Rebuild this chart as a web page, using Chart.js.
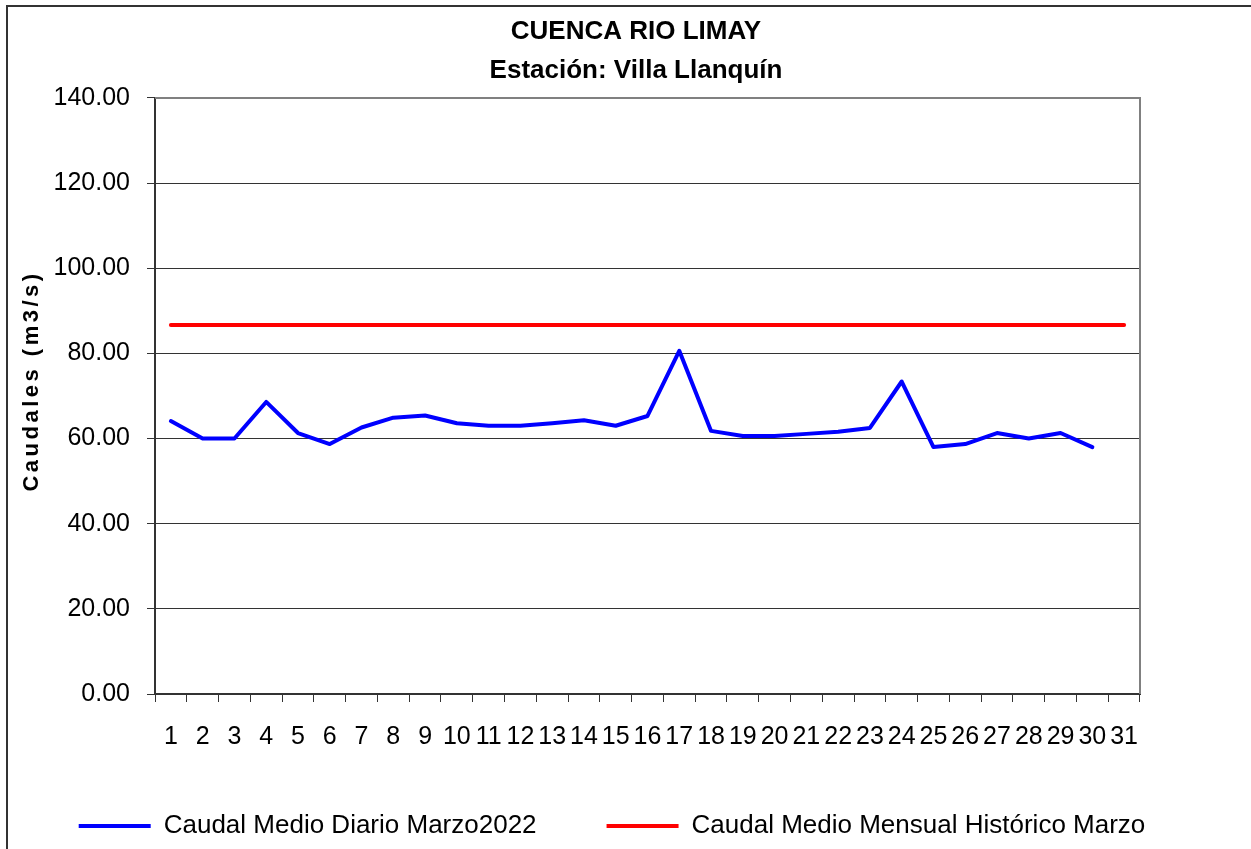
<!DOCTYPE html>
<html>
<head>
<meta charset="utf-8">
<script src="https://cdn.jsdelivr.net/npm/chart.js@4.4.1/dist/chart.umd.min.js"></script>
<style>
  html, body { margin: 0; padding: 0; background: #fff; overflow: hidden; }
  #frame { position: absolute; left: 6px; top: 5px; width: 1400px; height: 1000px;
           border-left: 2px solid #333; border-top: 2px solid #333; }
  canvas { position: absolute; left: 0; top: 0; }
</style>
</head>
<body>
<div id="frame"></div>
<canvas id="caudales" width="1251" height="849"></canvas>
<script>
const days = ['1','2','3','4','5','6','7','8','9','10','11','12','13','14','15','16',
  '17','18','19','20','21','22','23','24','25','26','27','28','29','30','31']
const caudalDiario = [64.1, 60.0, 60.0, 68.6, 61.3, 58.7, 62.6, 64.9, 65.4, 63.6,
  63.0, 63.0, 63.6, 64.3, 63.0, 65.3, 80.6, 61.8, 60.6, 60.6,
  61.1, 61.6, 62.5, 73.4, 58.0, 58.7, 61.3, 60.0, 61.3, 58.0, null]
const caudalHistorico = [86.7, 86.7, 86.7, 86.7, 86.7, 86.7, 86.7, 86.7, 86.7, 86.7,
  86.7, 86.7, 86.7, 86.7, 86.7, 86.7, 86.7, 86.7, 86.7, 86.7,
  86.7, 86.7, 86.7, 86.7, 86.7, 86.7, 86.7, 86.7, 86.7, 86.7, 86.7]
const yTicks = [0, 20, 40, 60, 80, 100, 120, 140]

const FONT = "'Liberation Sans', Arial, sans-serif"

// gray frame on top and right of the plot, the rotated axis title,
// and a nudge of the legend (its padding makes it too tall) so it sits like the original
const plotFrame = {
  id: 'plotFrame',
  afterLayout(chart) {
    const lg = chart.legend
    lg.left -= 24
    lg.right -= 24
    lg.top -= 62
    lg.bottom -= 62
  },
  beforeDatasetsDraw(chart) {
    const {ctx, chartArea: a} = chart
    ctx.save()
    ctx.strokeStyle = '#808080'
    ctx.lineWidth = 2
    ctx.beginPath()
    ctx.moveTo(a.left, a.top)
    ctx.lineTo(a.right, a.top)
    ctx.lineTo(a.right, a.bottom)
    ctx.stroke()
    ctx.restore()
  },
  afterDraw(chart) {
    const {ctx, chartArea: a} = chart
    ctx.save()
    ctx.translate(32, (a.top + a.bottom) / 2 - 15)
    ctx.rotate(-Math.PI / 2)
    ctx.font = 'bold 22px ' + FONT
    ctx.letterSpacing = '3.5px'
    ctx.fillStyle = '#000'
    ctx.textAlign = 'center'
    ctx.textBaseline = 'middle'
    ctx.fillText('Caudales (m3/s)', 0, 0)
    ctx.restore()
  }
}

const ctx = document.querySelector('#caudales')
const chart = new Chart(ctx, {
  type: 'line',
  data: {
    labels: days,
    datasets: [
      {
        label: 'Caudal Medio Diario Marzo2022',
        data: caudalDiario,
        borderColor: '#0000ff',
        backgroundColor: '#0000ff',
        borderWidth: 4,
        pointRadius: 0,
        borderJoinStyle: 'round',
        borderCapStyle: 'round',
        spanGaps: false
      },
      {
        label: 'Caudal Medio Mensual Histórico Marzo',
        data: caudalHistorico,
        borderColor: '#ff0000',
        backgroundColor: '#ff0000',
        borderWidth: 4,
        pointRadius: 0,
        borderCapStyle: 'round'
      }
    ]
  },
  options: {
    responsive: false,
    animation: false,
    layout: { padding: { top: 10, left: 30, right: 9, bottom: -62 } },
    plugins: {
      title: {
        display: true,
        text: ['CUENCA RIO LIMAY', 'Estación: Villa Llanquín'],
        color: '#000',
        font: { family: FONT, size: 26, weight: 'bold', lineHeight: 1.48 },
        padding: { top: 3, bottom: 8 }
      },
      legend: {
        position: 'bottom',
        labels: {
          color: '#000',
          font: { family: FONT, size: 26 },
          boxWidth: 72,
          boxHeight: 4,
          padding: 70,
          generateLabels: (c) => Chart.defaults.plugins.legend.labels.generateLabels(c)
            .map(l => ({...l, lineWidth: 0}))
        }
      },
      tooltip: { enabled: false }
    },
    scales: {
      x: {
        offset: true,
        grid: { offset: true, drawOnChartArea: false, tickLength: 8, color: '#333' },
        border: { color: '#333', width: 2 },
        ticks: { color: '#000', font: { family: FONT, size: 25 }, autoSkip: false, maxRotation: 0, padding: 20 },
        afterFit: (s) => { s.height = 111 }
      },
      y: {
        min: 0,
        max: 140,
        afterBuildTicks: (s) => { s.ticks = yTicks.map(v => ({value: v})) },
        grid: {
          color: (c) => c.tick && c.tick.value === 140 ? 'rgba(0,0,0,0)' : '#333',
          tickColor: '#333',
          tickLength: 8,
          lineWidth: 1
        },
        border: { color: '#333', width: 2 },
        ticks: { color: '#000', font: { family: FONT, size: 25 }, padding: 17, callback: (v) => v.toFixed(2) },
        afterFit: (s) => { s.width = 125 }
      },
      y2: {
        position: 'right',
        min: 0,
        max: 140,
        grid: { display: false },
        border: { display: false },
        ticks: { display: false },
        afterFit: (s) => { s.width = 102 }
      }
    }
  },
  plugins: [plotFrame]
})
</script>
</body>
</html>
